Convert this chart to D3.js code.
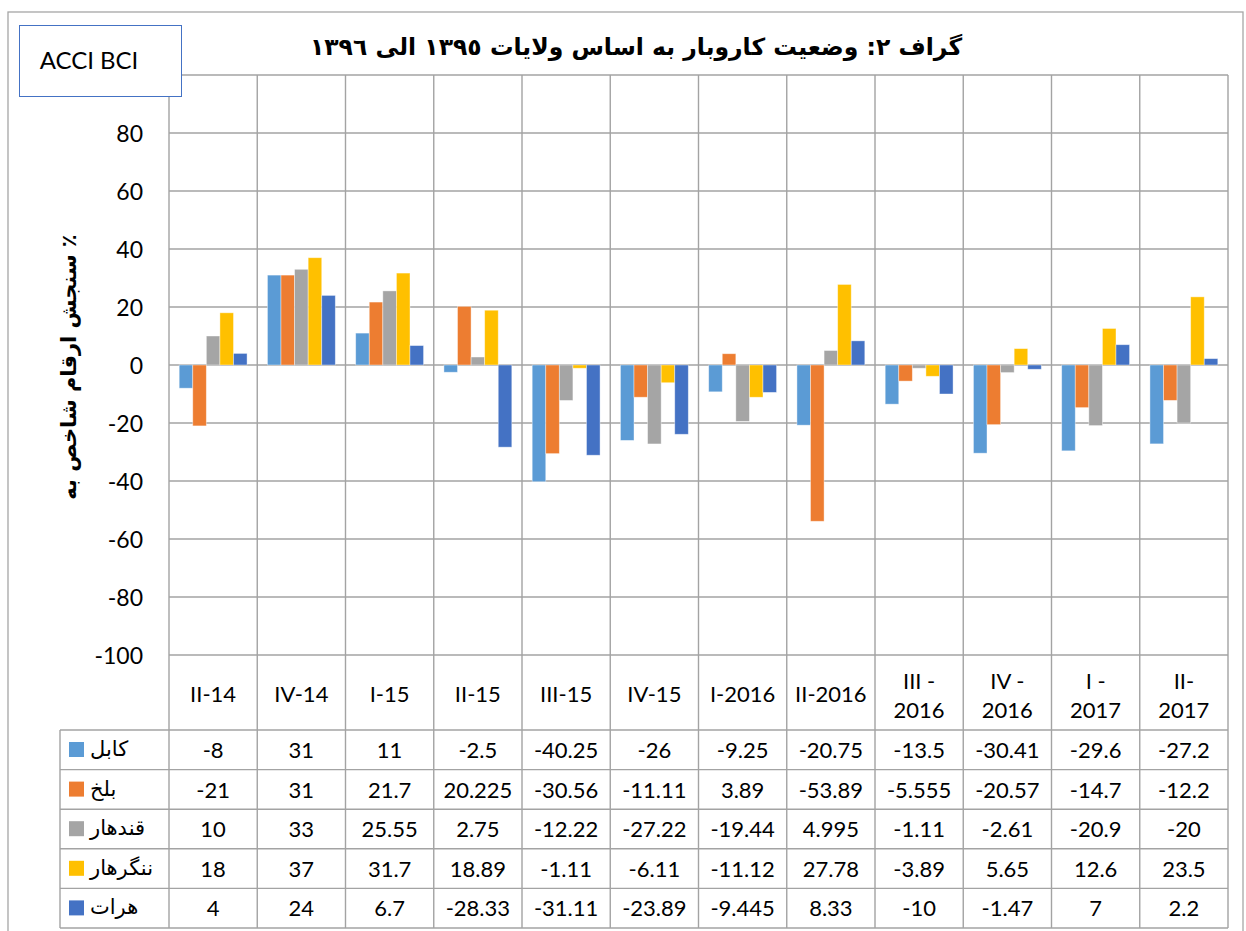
<!DOCTYPE html>
<html>
<head>
<meta charset="utf-8">
<script src="https://cdn.jsdelivr.net/npm/d3@7"></script>
<style>
  body { margin: 0; background: #fff; }
  svg text { fill: #000; }
</style>
</head>
<body>
<div id="chart"></div>
<script>
// chart data
const categories = ['II-14', 'IV-14', 'I-15', 'II-15', 'III-15', 'IV-15', 'I-2016', 'II-2016', 'III -|2016', 'IV -|2016', 'I -|2017', 'II-|2017'];
const seriesNames = ['کابل', 'بلخ', 'قندهار', 'ننگرهار', 'هرات'];
const seriesColors = ['#5B9BD5', '#ED7D31', '#A5A5A5', '#FFC000', '#4472C4'];
const kabul = [-8, 31, 11, -2.5, -40.25, -26, -9.25, -20.75, -13.5, -30.41, -29.6, -27.2];
const balkh = [-21, 31, 21.7, 20.225, -30.56, -11.11, 3.89, -53.89, -5.555, -20.57, -14.7, -12.2];
const kandahar = [10, 33, 25.55, 2.75, -12.22, -27.22, -19.44, 4.995, -1.11, -2.61, -20.9, -20];
const nangarhar = [18, 37, 31.7, 18.89, -1.11, -6.11, -11.12, 27.78, -3.89, 5.65, 12.6, 23.5];
const herat = [4, 24, 6.7, -28.33, -31.11, -23.89, -9.445, 8.33, -10, -1.47, 7, 2.2];
const yTicks = [-100, -80, -60, -40, -20, 0, 20, 40, 60, 80];

const series = [kabul, balkh, kandahar, nangarhar, herat];

const W = 1246, H = 931;
const plotL = 169, plotR = 1228, plotT = 75, plotB = 655;
const tableL = 60, rowTop = 730, rowH = 39.6;
const gridCol = '#a3a3a3';
const latin = 'Lato, "Open Sans", sans-serif';
const arabic = '"DejaVu Sans", sans-serif';

const svg = d3.select('#chart').append('svg')
  .attr('width', W)
  .attr('height', H);

// outer frame
svg.append('rect')
  .attr('x', 8).attr('y', 12)
  .attr('width', 1235).attr('height', 940)
  .attr('fill', 'none')
  .attr('stroke', '#a6a6a6')
  .attr('stroke-width', 1.3);

const x = d3.scaleBand()
  .domain(d3.range(categories.length))
  .range([plotL, plotR])
  .paddingInner(0).paddingOuter(0);

const xs = d3.scaleBand()
  .domain(d3.range(series.length))
  .range([0, x.bandwidth()])
  .paddingInner(0).paddingOuter(0.75);

const y = d3.scaleLinear()
  .domain([-100, 100])
  .range([plotB, plotT]);

// horizontal grid
svg.append('g')
  .selectAll('line')
  .data(yTicks.concat([100]))
  .enter()
  .append('line')
  .attr('x1', plotL).attr('x2', plotR)
  .attr('y1', d => y(d)).attr('y2', d => y(d))
  .attr('stroke', gridCol)
  .attr('stroke-width', 1.4);

// vertical lines (also the table column borders)
const tableB = rowTop + rowH * series.length;
svg.append('g')
  .selectAll('line')
  .data(d3.range(categories.length + 1))
  .enter()
  .append('line')
  .attr('x1', d => d < categories.length ? x(d) : plotR)
  .attr('x2', d => d < categories.length ? x(d) : plotR)
  .attr('y1', plotT).attr('y2', tableB)
  .attr('stroke', gridCol)
  .attr('stroke-width', 1.4);

// table horizontal lines
svg.append('g')
  .selectAll('line')
  .data(d3.range(series.length + 1))
  .enter()
  .append('line')
  .attr('x1', tableL).attr('x2', plotR)
  .attr('y1', d => rowTop + d * rowH).attr('y2', d => rowTop + d * rowH)
  .attr('stroke', gridCol)
  .attr('stroke-width', 1.4);

svg.append('line')
  .attr('x1', tableL).attr('x2', tableL)
  .attr('y1', rowTop).attr('y2', tableB)
  .attr('stroke', gridCol)
  .attr('stroke-width', 1.4);

// bars
series.forEach((vals, si) => {
  svg.append('g')
    .selectAll('rect')
    .data(vals)
    .enter()
    .append('rect')
    .attr('x', (d, i) => x(i) + xs(si))
    .attr('width', xs.bandwidth())
    .attr('y', d => y(Math.max(0, d)))
    .attr('height', d => Math.abs(y(d) - y(0)))
    .attr('fill', seriesColors[si])
    .attr('stroke', '#fff')
    .attr('stroke-opacity', 0.5)
    .attr('stroke-width', 0.8);
});

// y axis labels
const yAxis = d3.axisLeft(y)
  .tickValues(yTicks)
  .tickFormat(d => String(d))
  .tickSize(0)
  .tickPadding(26);
const ga = svg.append('g')
  .attr('transform', 'translate(' + plotL + ',0)')
  .call(yAxis);
ga.select('.domain').remove();
ga.selectAll('text')
  .attr('font-family', latin)
  .attr('font-size', 23)
  .attr('fill', '#000')
  .attr('dy', '0.36em');

// y axis title
svg.append('text')
  .attr('transform', 'translate(76,367) rotate(-90)')
  .attr('text-anchor', 'middle')
  .attr('font-family', arabic)
  .attr('font-weight', 'bold')
  .attr('font-size', 21)
  .text('سنجش ارقام شاخص به ٪');

// category header row
categories.forEach((c, i) => {
  const lines = c.split('|');
  const t = svg.append('text')
    .attr('text-anchor', 'middle')
    .attr('font-family', latin)
    .attr('font-size', 22);
  if (lines.length === 1) {
    t.append('tspan').attr('x', x(i) + x.bandwidth() / 2).attr('y', 702).text(lines[0]);
  } else {
    t.append('tspan').attr('x', x(i) + x.bandwidth() / 2).attr('y', 689).text(lines[0]);
    t.append('tspan').attr('x', x(i) + x.bandwidth() / 2).attr('y', 718).text(lines[1]);
  }
});

// table rows: legend key + values
series.forEach((vals, si) => {
  const top = rowTop + si * rowH;
  svg.append('rect')
    .attr('x', 69).attr('y', top + 12)
    .attr('width', 15).attr('height', 15)
    .attr('fill', seriesColors[si]);
  svg.append('text')
    .attr('x', 90).attr('y', top + 26)
    .attr('font-family', arabic)
    .attr('font-size', 21)
    .text(seriesNames[si]);
  svg.append('g')
    .selectAll('text')
    .data(vals)
    .enter()
    .append('text')
    .attr('x', (d, i) => x(i) + x.bandwidth() / 2)
    .attr('y', top + 28)
    .attr('text-anchor', 'middle')
    .attr('font-family', latin)
    .attr('font-size', 22)
    .text(d => String(d));
});

// ACCI BCI box
svg.append('rect')
  .attr('x', 19.5).attr('y', 25.5)
  .attr('width', 162).attr('height', 71)
  .attr('fill', '#fff')
  .attr('stroke', '#4472C4')
  .attr('stroke-width', 1);
svg.append('text')
  .attr('x', 89).attr('y', 69)
  .attr('text-anchor', 'middle')
  .attr('font-family', latin)
  .attr('font-size', 24)
  .text('ACCI BCI');

// title
svg.append('text')
  .attr('x', 636).attr('y', 55)
  .attr('text-anchor', 'middle')
  .attr('direction', 'rtl')
  .style('direction', 'rtl')
  .attr('font-family', arabic)
  .attr('font-weight', 'bold')
  .attr('font-size', 23.5)
  .text('گراف ٢: وضعیت کاروبار به اساس ولایات  ١٣٩٥ الی ١٣٩٦');
</script>
</body>
</html>
